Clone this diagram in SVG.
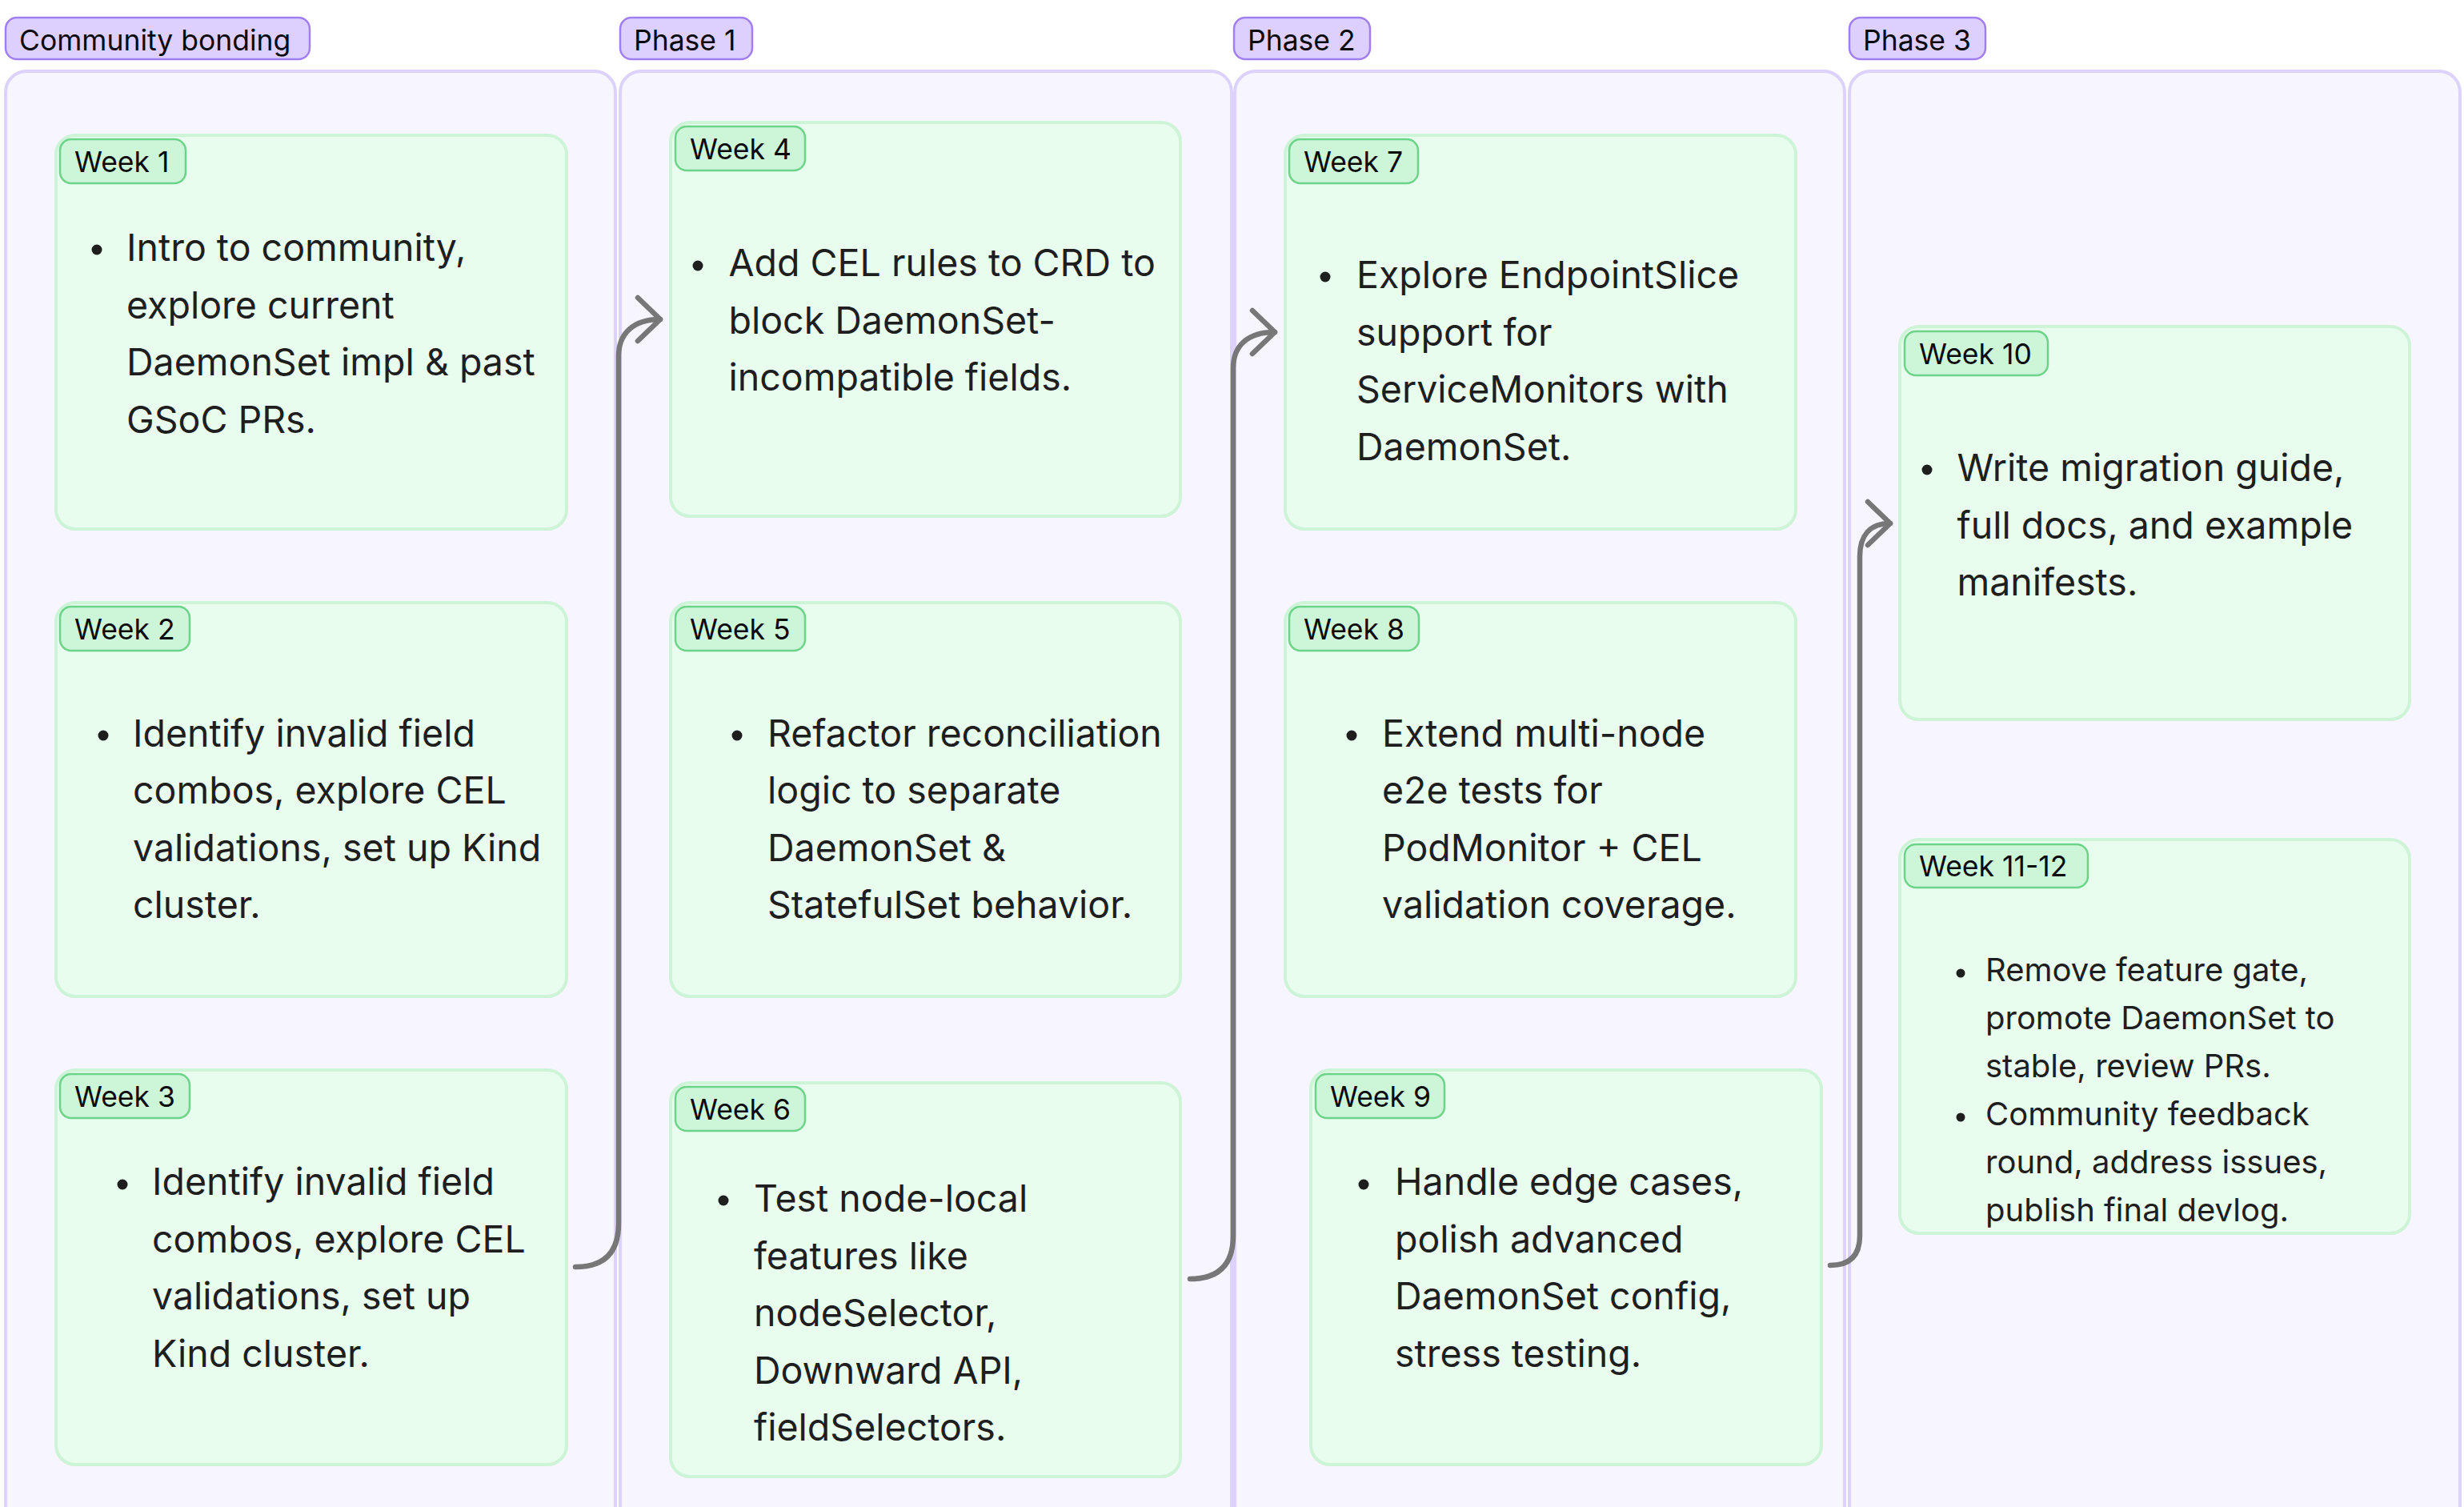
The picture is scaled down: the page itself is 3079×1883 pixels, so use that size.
<svg xmlns="http://www.w3.org/2000/svg" width="3079" height="1883" viewBox="0 0 3079 1883">
<style>
  text { font-family: Inter, "Liberation Sans", sans-serif; }
  .container { fill: #f7f5ff; stroke: #ddd2fb; stroke-width: 4; }
  .phase { fill: #ddd0ff; stroke: #a27ff0; stroke-width: 2.5; }
  .phase-t { font-size: 35.5px; fill: #0a0a0a; }
  .card { fill: #e8fdee; stroke: #cdf4d7; stroke-width: 4; }
  .badge { fill: #cdf5d8; stroke: #6cd488; stroke-width: 2.5; }
  .badge-t { font-size: 35.5px; fill: #0a0a0a; }
  .body { font-size: 46.5px; fill: #1e1e1e; }
  .body-s { font-size: 40px; fill: #1e1e1e; }
  .dot { fill: #1e1e1e; }
  .conn { fill: none; stroke: #777; stroke-width: 6.5; stroke-linecap: round; stroke-linejoin: round; }
</style>
<rect width="3079" height="1883" fill="#ffffff"/>

<g id="col-community">
  <rect class="container" x="7" y="89" width="762" height="1900" rx="26"/>
  <rect class="phase" x="7" y="22" width="380" height="52" rx="14"/>
  <text class="phase-t" x="24" y="63">Community bonding</text>
</g>
<g id="col-phase1">
  <rect class="container" x="775" y="89" width="764" height="1900" rx="26"/>
  <rect class="phase" x="775" y="22" width="165" height="52" rx="14"/>
  <text class="phase-t" x="792" y="63">Phase 1</text>
</g>
<g id="col-phase2">
  <rect class="container" x="1543" y="89" width="762" height="1900" rx="26"/>
  <rect class="phase" x="1542" y="22" width="170" height="52" rx="14"/>
  <text class="phase-t" x="1559" y="63">Phase 2</text>
</g>
<g id="col-phase3">
  <rect class="container" x="2311" y="89" width="763" height="1900" rx="26"/>
  <rect class="phase" x="2311" y="22" width="170" height="52" rx="14"/>
  <text class="phase-t" x="2328" y="63">Phase 3</text>
</g>

<g id="connectors">
  <path class="conn" d="M 719 1583 Q 773 1583 773 1529 L 773 445 C 773 418 790 399 825 399"/>
  <path class="conn" d="M 797 372 L 825 399 L 797 426"/>
  <path class="conn" d="M 1487 1598 Q 1541 1598 1541 1544 L 1541 460 C 1541 433 1558 415 1593 415"/>
  <path class="conn" d="M 1565 388 L 1593 415 L 1565 442"/>
  <path class="conn" d="M 2287 1581 Q 2324 1581 2324 1544 L 2324 695 C 2324 670 2336 654 2362 654"/>
  <path class="conn" d="M 2334 627 L 2362 654 L 2334 681"/>
</g>

<g id="week1">
  <rect class="card" x="70" y="169" width="638" height="492" rx="24"/>
  <rect class="badge" x="75" y="174" width="157" height="55" rx="14"/>
  <text class="badge-t" x="93" y="215">Week 1</text>
  <circle class="dot" cx="121" cy="312" r="6.5"/>
  <text class="body" x="158"><tspan x="158" y="326">Intro to community,</tspan><tspan x="158" y="397.5">explore current</tspan><tspan x="158" y="469">DaemonSet impl &amp; past</tspan><tspan x="158" y="540.5">GSoC PRs.</tspan></text>
</g>
<g id="week2">
  <rect class="card" x="70" y="753" width="638" height="492" rx="24"/>
  <rect class="badge" x="75" y="758" width="162" height="55" rx="14"/>
  <text class="badge-t" x="93" y="799">Week 2</text>
  <circle class="dot" cx="129" cy="919" r="6.5"/>
  <text class="body"><tspan x="166" y="932.5">Identify invalid field</tspan><tspan x="166" y="1004">combos, explore CEL</tspan><tspan x="166" y="1075.5">validations, set up Kind</tspan><tspan x="166" y="1147">cluster.</tspan></text>
</g>
<g id="week3">
  <rect class="card" x="70" y="1337" width="638" height="493" rx="24"/>
  <rect class="badge" x="75" y="1342" width="162" height="55" rx="14"/>
  <text class="badge-t" x="93" y="1383">Week 3</text>
  <circle class="dot" cx="153" cy="1480" r="6.5"/>
  <text class="body"><tspan x="190" y="1493">Identify invalid field</tspan><tspan x="190" y="1564.5">combos, explore CEL</tspan><tspan x="190" y="1636">validations, set up</tspan><tspan x="190" y="1707.5">Kind cluster.</tspan></text>
</g>

<g id="week4">
  <rect class="card" x="838" y="153" width="637" height="492" rx="24"/>
  <rect class="badge" x="844" y="158" width="162" height="55" rx="14"/>
  <text class="badge-t" x="862" y="199">Week 4</text>
  <circle class="dot" cx="872" cy="332" r="6.5"/>
  <text class="body"><tspan x="910.5" y="345">Add CEL rules to CRD to</tspan><tspan x="910.5" y="416.5">block DaemonSet-</tspan><tspan x="910.5" y="488">incompatible fields.</tspan></text>
</g>
<g id="week5">
  <rect class="card" x="838" y="753" width="637" height="492" rx="24"/>
  <rect class="badge" x="844" y="758" width="162" height="55" rx="14"/>
  <text class="badge-t" x="862" y="799">Week 5</text>
  <circle class="dot" cx="921" cy="919" r="6.5"/>
  <text class="body"><tspan x="959" y="932.5">Refactor reconciliation</tspan><tspan x="959" y="1004">logic to separate</tspan><tspan x="959" y="1075.5">DaemonSet &amp;</tspan><tspan x="959" y="1147">StatefulSet behavior.</tspan></text>
</g>
<g id="week6">
  <rect class="card" x="838" y="1353" width="637" height="492" rx="24"/>
  <rect class="badge" x="844" y="1358" width="162" height="55" rx="14"/>
  <text class="badge-t" x="862" y="1399">Week 6</text>
  <circle class="dot" cx="904" cy="1500" r="6.5"/>
  <text class="body"><tspan x="942" y="1514">Test node-local</tspan><tspan x="942" y="1585.5">features like</tspan><tspan x="942" y="1657">nodeSelector,</tspan><tspan x="942" y="1728.5">Downward API,</tspan><tspan x="942" y="1800">fieldSelectors.</tspan></text>
</g>

<g id="week7">
  <rect class="card" x="1606" y="169" width="638" height="492" rx="24"/>
  <rect class="badge" x="1611" y="174" width="161" height="55" rx="14"/>
  <text class="badge-t" x="1629" y="215">Week 7</text>
  <circle class="dot" cx="1656" cy="346" r="6.5"/>
  <text class="body"><tspan x="1695" y="360">Explore EndpointSlice</tspan><tspan x="1695" y="431.5">support for</tspan><tspan x="1695" y="503">ServiceMonitors with</tspan><tspan x="1695" y="574.5">DaemonSet.</tspan></text>
</g>
<g id="week8">
  <rect class="card" x="1606" y="753" width="638" height="492" rx="24"/>
  <rect class="badge" x="1611" y="758" width="162" height="55" rx="14"/>
  <text class="badge-t" x="1629" y="799">Week 8</text>
  <circle class="dot" cx="1689" cy="919" r="6.5"/>
  <text class="body"><tspan x="1727" y="932.5">Extend multi-node</tspan><tspan x="1727" y="1004">e2e tests for</tspan><tspan x="1727" y="1075.5">PodMonitor + CEL</tspan><tspan x="1727" y="1147">validation coverage.</tspan></text>
</g>
<g id="week9">
  <rect class="card" x="1638" y="1337" width="638" height="493" rx="24"/>
  <rect class="badge" x="1644" y="1342" width="161" height="55" rx="14"/>
  <text class="badge-t" x="1662" y="1383">Week 9</text>
  <circle class="dot" cx="1704" cy="1480" r="6.5"/>
  <text class="body"><tspan x="1743" y="1493">Handle edge cases,</tspan><tspan x="1743" y="1564.5">polish advanced</tspan><tspan x="1743" y="1636">DaemonSet config,</tspan><tspan x="1743" y="1707.5">stress testing.</tspan></text>
</g>

<g id="week10">
  <rect class="card" x="2374" y="408" width="637" height="491" rx="24"/>
  <rect class="badge" x="2380" y="414" width="179" height="55" rx="14"/>
  <text class="badge-t" x="2398" y="455">Week 10</text>
  <circle class="dot" cx="2408" cy="587" r="6.5"/>
  <text class="body"><tspan x="2445.5" y="601">Write migration guide,</tspan><tspan x="2445.5" y="672.5">full docs, and example</tspan><tspan x="2445.5" y="744">manifests.</tspan></text>
</g>
<g id="week11-12">
  <rect class="card" x="2374" y="1049" width="637" height="492" rx="24"/>
  <rect class="badge" x="2380" y="1055" width="229" height="54" rx="14"/>
  <text class="badge-t" x="2398" y="1095">Week 11-12</text>
  <circle class="dot" cx="2450" cy="1216" r="5.5"/>
  <text class="body-s"><tspan x="2481" y="1226">Remove feature gate,</tspan><tspan x="2481" y="1286">promote DaemonSet to</tspan><tspan x="2481" y="1346">stable, review PRs.</tspan></text>
  <circle class="dot" cx="2450" cy="1396" r="5.5"/>
  <text class="body-s"><tspan x="2481" y="1406">Community feedback</tspan><tspan x="2481" y="1466">round, address issues,</tspan><tspan x="2481" y="1526">publish final devlog.</tspan></text>
</g>
</svg>
